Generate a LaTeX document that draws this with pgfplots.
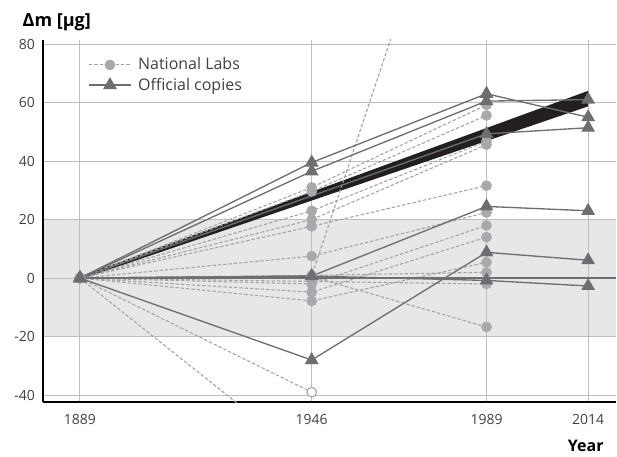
\documentclass[border=0pt]{standalone}
\usepackage{pgfplots}
\pgfplotsset{compat=1.18}
\usepackage{fontspec}
\setmainfont{Open Sans}
\definecolor{lab}{HTML}{A7A9AC}
\definecolor{labline}{HTML}{A0A2A5}
\definecolor{offc}{HTML}{6D6E71}
\definecolor{bandc}{HTML}{E6E7E8}
\definecolor{gridc}{HTML}{BCBEC0}
\definecolor{wedge}{HTML}{231F20}
\definecolor{textc}{HTML}{414042}
\begin{document}
\begin{tikzpicture}
\pgfplotsset{
  labst/.style={labline, dash pattern=on 2.5pt off 1.5pt, line width=0.8pt, mark=*, mark size=3.6pt, mark options={solid, fill=lab, draw=lab}},
  offst/.style={offc, solid, line width=1pt, mark=triangle*, mark size=5pt, mark options={solid, fill=offc, draw=offc}},
}
\begin{axis}[
  name=ax,
  set layers=standard,
  scale only axis, width=430.5pt, height=272pt,
  xmin=1879.9, xmax=2020.9, ymin=-42.4, ymax=81.4,
  axis x line*=bottom, axis y line*=left,
  axis line style={line width=1.2pt, black},
  xtick={1889,1946,1989,2014}, ytick={-40,-20,0,20,40,60,80},
  xticklabels={1889,1946,1989,2014},
  major tick length=0pt,
  grid=major, grid style={gridc, line width=0.8pt},
  /pgf/number format/assume math mode=true,
  tick label style={font=\fontsize{10.5}{12}\selectfont, text=textc},
  yticklabel style={xshift=-2.5pt},
  xticklabel style={yshift=-6pt},
  legend style={at={(rel axis cs:0.072,0.966)}, anchor=north west, draw=none, fill=none,
    font=\fontsize{12}{14}\selectfont, text=textc, row sep=0.5pt, cells={anchor=west},
    /tikz/every odd column/.append style={column sep=3pt}},
  legend image code/.code={\draw[mark repeat=2, mark phase=2, #1] plot coordinates {(0cm,0cm) (0.55cm,0cm) (1.1cm,0cm)};},
]
% grey band
\addplot[fill=bandc, draw=none, on layer=axis background, forget plot] coordinates {(1879.9,-20) (2020.9,-20) (2020.9,20) (1879.9,20)} -- cycle;
% wedge
\addplot[fill=wedge, draw=none, forget plot] coordinates {(1889,-0.5) (2014,58.7) (2014,64) (1889,0.5)} -- cycle;
% national labs
\addplot[labst, forget plot] coordinates {(1889,0) (1946,31) (1989,59.2)};
\addplot[labst, forget plot] coordinates {(1889,0) (1946,29.6) (1989,55.6)};
\addplot[labst, forget plot] coordinates {(1889,0) (1946,23) (1989,46.8)};
\addplot[labst, forget plot] coordinates {(1889,0) (1946,20) (1989,45.6)};
\addplot[labst, forget plot] coordinates {(1889,0) (1946,17.7) (1989,31.6)};
\addplot[labst, forget plot] coordinates {(1889,0) (1946,7.5) (1989,22.4)};
\addplot[labst, forget plot] coordinates {(1889,0) (1946,0.7) (1989,180)};
\addplot[labst, forget plot] coordinates {(1889,0) (1946,-2) (1989,18)};
\addplot[labst, forget plot] coordinates {(1889,0) (1946,-4.8) (1989,14)};
\addplot[labst, forget plot] coordinates {(1889,0) (1946,-7.8) (1989,5.4)};
\addplot[labst, forget plot] coordinates {(1889,0) (1946,0.9) (1989,2)};
\addplot[labst, forget plot] coordinates {(1889,0) (1946,0.5) (1989,-16.7)};
\addplot[labst, forget plot] coordinates {(1889,0) (1989,-2)};
\addplot[labst, forget plot] coordinates {(1889,0) (1946,-63)};
\addplot[labst, mark=none, forget plot] coordinates {(1889,0) (1946,-39)};
\addplot[only marks, mark=*, mark size=3.6pt, draw=lab, fill=white, line width=0.9pt, forget plot] coordinates {(1946,-39)};
% zero line
\addplot[offc, line width=1pt, forget plot] coordinates {(1889,0) (2020.9,0)};
% official copies
\addplot[offst, forget plot] coordinates {(1889,0) (1946,39.5) (1989,63) (2014,55)};
\addplot[offst, forget plot] coordinates {(1889,0) (1946,36.5) (1989,60.5) (2014,61)};
\addplot[offst, forget plot] coordinates {(1889,0) (1989,49.3) (2014,51.4)};
\addplot[offst, forget plot] coordinates {(1889,0) (1946,0.7) (1989,24.5) (2014,23)};
\addplot[offst, forget plot] coordinates {(1889,0) (1946,-28) (1989,8.8) (2014,6.1)};
\addplot[offst, forget plot] coordinates {(1889,0) (1946,0.7) (1989,-0.8) (2014,-2.7)};
\addlegendimage{labst}
\addlegendentry{National Labs}
\addlegendimage{offst}
\addlegendentry{Official copies}
\end{axis}
\node[anchor=base west, font=\fontsize{13.5}{15}\selectfont\bfseries] at ([xshift=-18.75pt, yshift=10pt]ax.north west) {Δm [μg]};
\node[anchor=base east, font=\fontsize{12}{14}\selectfont\bfseries] at ([xshift=-6pt, yshift=-37pt]ax.south east) {Year};
\useasboundingbox ([xshift=-32.25pt, yshift=-40.5pt]ax.south west) rectangle ([yshift=30pt]ax.north east);
\end{tikzpicture}
\end{document}
